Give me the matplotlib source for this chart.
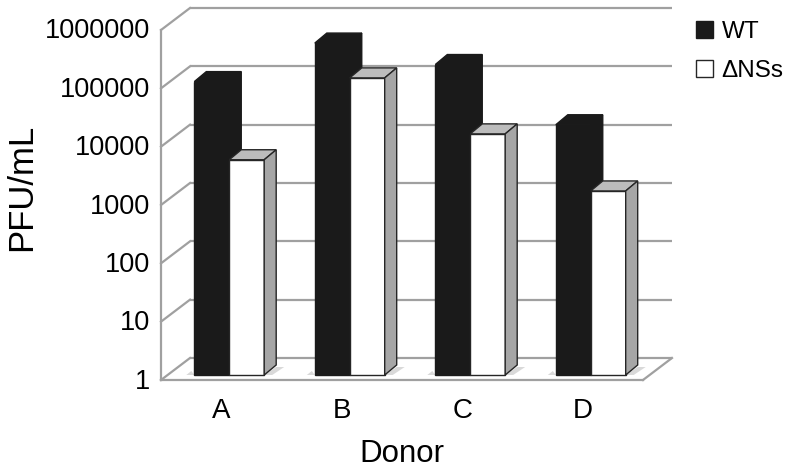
import matplotlib
matplotlib.use('Agg')
import matplotlib.pyplot as plt
from matplotlib.patches import Polygon
from matplotlib.lines import Line2D
from matplotlib.transforms import Affine2D, IdentityTransform

plt.rcParams['font.family'] = ['Liberation Sans', 'DejaVu Sans']

donors = ['A', 'B', 'C', 'D']
wt = [107000, 490000, 210000, 19500]
dnss = [4900, 124000, 13600, 1430]
tick_values = [1, 10, 100, 1000, 10000, 100000, 1000000]
tick_labels = ['1', '10', '100', '1000', '10000', '100000', '1000000']

GRID = '#a0a0a0'
BLACK = '#1a1a1a'

W, H = 786, 469
fig = plt.figure(figsize=(W / 100, H / 100), dpi=100)
# front plane of the fake 3d box, in pixels
ax = fig.add_axes([161 / W, (H - 380) / H, 482 / W, 350 / H])
ax.set_yscale('log')
ax.set_ylim(1, 1000000)
ax.set_xlim(-0.5, 3.5)
ax.minorticks_off()

for s in ['top', 'right']:
    ax.spines[s].set_visible(False)
for s in ['left', 'bottom']:
    ax.spines[s].set_color(GRID)
    ax.spines[s].set_linewidth(1.6)
    ax.spines[s].set_zorder(1)

ax.set_xticks(range(4))
ax.set_xticklabels(donors, fontsize=20)
ax.set_yticks(tick_values)
ax.set_yticklabels(tick_labels, fontsize=19.5)
ax.tick_params(axis='both', length=0)
ax.tick_params(axis='y', pad=8)
ax.tick_params(axis='x', pad=13)
for lab in ax.get_yticklabels():
    lab.set_transform(lab.get_transform() + Affine2D().translate(0, 1.5))

ax.set_ylabel('PFU/mL', fontsize=25, labelpad=5, y=0.55)
ax.set_xlabel('Donor', fontsize=22.5, labelpad=11)

# back wall is the front plane shifted by this many pixels
wall = (29, 22)
wall_tr = ax.transData + Affine2D().translate(*wall)
ax.hlines(tick_values, -0.5, 3.5, colors=GRID, linewidth=1.6, transform=wall_tr,
          clip_on=False, zorder=1)


def px(x, v):
    return ax.transData.transform((x, v))


def seg(p, q):
    fig.add_artist(Line2D([p[0], q[0]], [p[1], q[1]], color=GRID, linewidth=1.6,
                          transform=IdentityTransform(), zorder=0.5))


# diagonals on the left wall + right edge of the floor
for v in tick_values:
    p = px(-0.5, v)
    seg(p, p + wall)
p = px(3.5, 1)
seg(p, p + wall)

# the bars stand a bit behind the front plane
bar_tr = ax.transData + Affine2D().translate(8, 5)
depth = (12, 10)
width = 0.29


def draw_bar(x, v, face, top, side, edge, z):
    ax.bar(x, v, width, bottom=1, color=face, edgecolor=edge, linewidth=1.0,
           transform=bar_tr, clip_on=False, zorder=z)
    off = bar_tr.transform
    x0, x1 = x - width / 2, x + width / 2
    a, b = off((x0, v)), off((x1, v))
    c = off((x1, 1))
    top_pts = [a, b, b + depth, a + depth]
    side_pts = [b, c, c + depth, b + depth]
    ax.add_patch(Polygon(top_pts, facecolor=top, edgecolor=edge, linewidth=1.0,
                         transform=IdentityTransform(), clip_on=False, zorder=z))
    ax.add_patch(Polygon(side_pts, facecolor=side, edgecolor=edge, linewidth=1.0,
                         transform=IdentityTransform(), clip_on=False, zorder=z))


# soft shadow on the floor around each pair of bars
def draw_shadow(i):
    a = bar_tr.transform((i - width, 1))
    b = bar_tr.transform((i + width, 1))
    pts = [a + (-8, 0), b + (8, 0), b + (20, 8), b + (12, 8), b, a, a + (-3, 4)]
    ax.add_patch(Polygon(pts, facecolor='#d9d9d9', edgecolor='none',
                         transform=IdentityTransform(), clip_on=False, zorder=2))


for i in range(4):
    draw_shadow(i)
    draw_bar(i - width / 2, wt[i], BLACK, BLACK, BLACK, BLACK, 3)
    draw_bar(i + width / 2, dnss[i], 'white', '#bcbcbc', '#a6a6a6', '#262626', 4)

handles = [Polygon([[0, 0]], facecolor=BLACK, edgecolor=BLACK, label='WT'),
           Polygon([[0, 0]], facecolor='white', edgecolor='#262626', label='\u0394NSs')]
fig.legend(handles=handles, frameon=False, fontsize=17.5, handlelength=0.7,
           handleheight=0.7, handletextpad=0.35, labelspacing=0.7, borderpad=0,
           borderaxespad=0, loc='upper left', bbox_to_anchor=(696 / W, (H - 21) / H))

fig.savefig('out.png', dpi=100)
plt.close()
